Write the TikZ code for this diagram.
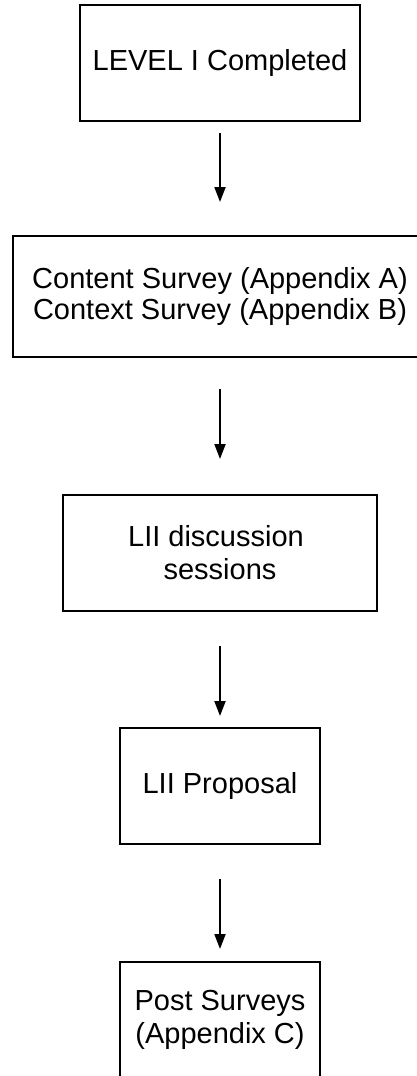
\documentclass[tikz,border=0pt]{standalone}
\usepackage{fontspec}
\setmainfont{Liberation Sans}
\usetikzlibrary{arrows.meta}
\begin{document}
\begin{tikzpicture}[x=1pt,y=-1pt,
  box/.style={draw=black, line width=2pt, rectangle, align=center, inner sep=0pt,
    font=\fontsize{29}{33}\selectfont},
  arr/.style={draw=black, line width=2pt, -{Triangle[length=15pt,width=11pt]}}]
\useasboundingbox (0,0) rectangle (417,1076);
\node[box, minimum width=280pt, minimum height=116pt] (b1) at (220,63) {LEVEL I Completed};
\node[box, minimum width=414pt, minimum height=121pt] (b2) at (220,296.5) {\raisebox{-3pt}{\shortstack{Content Survey (Appendix A)\\Context Survey (Appendix B)}}};
\node[box, minimum width=314pt, minimum height=116pt] (b3) at (220,553) {LII discussion\kern8pt\\sessions};
\node[box, minimum width=200pt, minimum height=116pt] (b4) at (220,786) {LII Proposal};
\node[box, minimum width=200pt, minimum height=116pt] (b5) at (220,1020) {Post Surveys\\(Appendix C)};
\draw[arr] ([yshift=-11pt]b1.south) -- ([yshift=33pt]b2.north);
\draw[arr] ([yshift=-31pt]b2.south) -- ([yshift=35pt]b3.north);
\draw[arr] ([yshift=-34pt]b3.south) -- ([yshift=11pt]b4.north);
\draw[arr] ([yshift=-34pt]b4.south) -- ([yshift=12pt]b5.north);
\end{tikzpicture}
\end{document}
